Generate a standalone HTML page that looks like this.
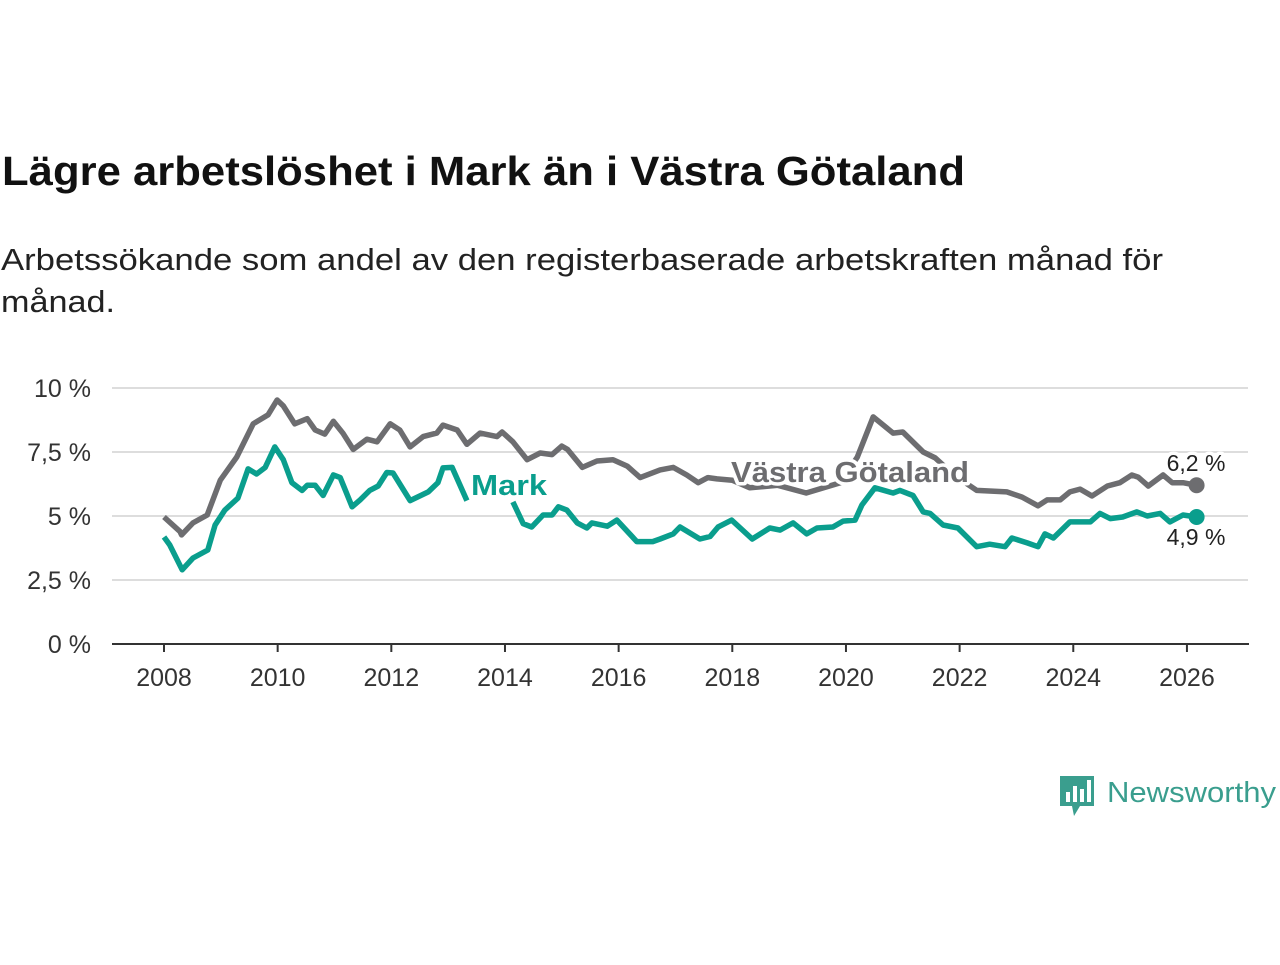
<!DOCTYPE html>
<html><head><meta charset="utf-8"><style>
body{margin:0;background:#fff;width:1280px;height:960px;overflow:hidden;font-family:"Liberation Sans",sans-serif}
</style></head><body>
<svg width="1280" height="960">
<text x="2" y="185" font-size="41" font-weight="bold" fill="#111" textLength="963" lengthAdjust="spacingAndGlyphs">Lägre arbetslöshet i Mark än i Västra Götaland</text>
<text x="1" y="270" font-size="31" fill="#222" textLength="1162" lengthAdjust="spacingAndGlyphs">Arbetssökande som andel av den registerbaserade arbetskraften månad för</text>
<text x="1" y="312" font-size="31" fill="#222" textLength="114" lengthAdjust="spacingAndGlyphs">månad.</text>
<g id="grid"></g><g id="lines"></g><g id="labels"></g>
<g>
<path d="M1060 776h34v30h-14l-6 10-2-10h-12z" fill="#3a9e8e"/>
<rect x="1066" y="792" width="4" height="10" fill="#fff"/><rect x="1073" y="786" width="4" height="16" fill="#fff"/><rect x="1080" y="789" width="4" height="13" fill="#fff"/><rect x="1087" y="780" width="4" height="22" fill="#fff"/>
<text x="1107" y="802" font-size="29" fill="#3a9e8e" textLength="169" lengthAdjust="spacingAndGlyphs">Newsworthy</text>
</g>
</svg>
<script>
const yTicks=[0,2.5,5,7.5,10];
const yTickLabels=["0 %","2,5 %","5 %","7,5 %","10 %"];
const xTicks=[2008,2010,2012,2014,2016,2018,2020,2022,2024,2026];
const vgDates=[2008.0,2008.28,2008.31,2008.51,2008.76,2008.99,2009.28,2009.57,2009.83,2009.99,2010.1,2010.3,2010.52,2010.66,2010.83,2010.98,2011.15,2011.33,2011.57,2011.75,2011.98,2012.15,2012.33,2012.56,2012.8,2012.91,2013.16,2013.33,2013.56,2013.86,2013.95,2014.14,2014.39,2014.62,2014.83,2015.0,2015.1,2015.36,2015.62,2015.9,2016.15,2016.38,2016.73,2016.96,2017.2,2017.4,2017.57,2017.73,2018.0,2018.31,2018.8,2019.3,2019.9,2020.2,2020.48,2020.83,2021.0,2021.36,2021.57,2021.9,2022.3,2022.83,2023.1,2023.38,2023.54,2023.77,2023.94,2024.12,2024.33,2024.6,2024.82,2025.03,2025.14,2025.32,2025.58,2025.74,2025.93,2026.17];
const vgValues=[4.96,4.4,4.26,4.73,5.04,6.4,7.3,8.6,8.95,9.53,9.3,8.6,8.8,8.36,8.2,8.7,8.23,7.6,8.0,7.9,8.6,8.36,7.7,8.1,8.24,8.55,8.36,7.8,8.24,8.1,8.28,7.9,7.2,7.46,7.4,7.73,7.6,6.9,7.15,7.2,6.95,6.5,6.8,6.9,6.6,6.3,6.5,6.45,6.4,6.1,6.2,5.9,6.3,7.3,8.87,8.24,8.28,7.5,7.27,6.6,6.0,5.94,5.74,5.4,5.63,5.63,5.94,6.05,5.78,6.17,6.3,6.6,6.52,6.17,6.6,6.3,6.3,6.2];
const markDates=[2008.0,2008.1,2008.32,2008.51,2008.77,2008.9,2009.07,2009.3,2009.48,2009.63,2009.78,2009.95,2010.1,2010.25,2010.43,2010.52,2010.66,2010.8,2010.98,2011.1,2011.31,2011.45,2011.62,2011.77,2011.92,2012.03,2012.33,2012.65,2012.82,2012.91,2013.07,2013.33,2014.14,2014.32,2014.47,2014.67,2014.83,2014.94,2015.09,2015.27,2015.44,2015.53,2015.8,2015.97,2016.32,2016.6,2016.73,2016.96,2017.08,2017.43,2017.61,2017.75,2017.99,2018.35,2018.66,2018.84,2019.07,2019.31,2019.49,2019.77,2019.95,2020.16,2020.28,2020.51,2020.83,2020.95,2021.18,2021.36,2021.48,2021.71,2021.97,2022.3,2022.53,2022.8,2022.92,2023.19,2023.38,2023.5,2023.65,2023.94,2024.3,2024.47,2024.65,2024.87,2025.12,2025.3,2025.53,2025.7,2025.93,2026.17];
const markValues=[4.18,3.87,2.9,3.36,3.67,4.65,5.23,5.7,6.84,6.64,6.9,7.7,7.2,6.3,6.0,6.2,6.2,5.8,6.6,6.5,5.36,5.63,6.0,6.17,6.7,6.68,5.6,5.94,6.3,6.88,6.9,5.6,5.55,4.7,4.57,5.04,5.04,5.36,5.23,4.73,4.53,4.73,4.6,4.84,4.0,4.0,4.1,4.3,4.57,4.1,4.2,4.57,4.84,4.1,4.53,4.45,4.73,4.3,4.53,4.57,4.8,4.84,5.43,6.1,5.9,6.0,5.8,5.16,5.1,4.65,4.53,3.8,3.9,3.8,4.14,3.95,3.8,4.3,4.14,4.77,4.77,5.1,4.9,4.96,5.16,5.0,5.1,4.77,5.04,4.96];
const X=y=>164+(y-2008)*56.83, Y=v=>644-v*25.6;
const NS="http://www.w3.org/2000/svg";
function mk(t,a,p){const e=document.createElementNS(NS,t);for(const k in a)e.setAttribute(k,a[k]);p.appendChild(e);return e;}
const grid=document.getElementById('grid');
yTicks.forEach((t,i)=>{
 if(t>0){const l=mk('line',{x1:112,x2:1248,y1:Y(t),y2:Y(t),stroke:'#ddd','stroke-width':2},grid);
 
 }
 const tx=mk('text',{x:91,y:Y(t)+9,'text-anchor':'end','font-size':25,fill:'#333'},grid);tx.textContent=yTickLabels[i];
 
 
});
const ax=mk('line',{x1:112,x2:1249,y1:644,y2:644,stroke:'#333','stroke-width':2},grid);


xTicks.forEach(t=>{
 mk('line',{x1:X(t),x2:X(t),y1:644,y2:652,stroke:'#333','stroke-width':2},grid);
 const tx=mk('text',{x:X(t),y:686,'text-anchor':'middle','font-size':25,fill:'#333'},grid);tx.textContent=t;
 
 
});
const lines=document.getElementById('lines');
function line(d,v,c,name){
 const p=mk('path',{d:d.map((x,i)=>((i&&x-d[i-1]<0.75)?'L':'M')+X(x).toFixed(1)+' '+Y(v[i]).toFixed(1)).join(''),fill:'none',stroke:c,'stroke-width':5.5,'stroke-linejoin':'round'},lines);
 
 
 const dot=mk('circle',{cx:X(d[d.length-1]),cy:Y(v[v.length-1]),r:8,fill:c},lines);
 
 
}
line(vgDates,vgValues,'#6d6d70','vastra-gotaland-line');
line(markDates,markValues,'#0a9e8d','mark-line');
const lab=document.getElementById('labels');
function label(x,y,t,c,s,w,name,anchor,len){
 const e=mk('text',{x:x,y:y,'font-size':s,'font-weight':w,fill:c,stroke:'#fff','stroke-width':7,'paint-order':'stroke','stroke-linejoin':'round','text-anchor':anchor||'start'},lab);
 if(len){e.setAttribute('textLength',len);e.setAttribute('lengthAdjust','spacingAndGlyphs');}
 e.textContent=t;
 
 
}
label(471,495,'Mark','#0a9e8d',29,'bold','mark-series-label','start',76);
label(731,482,'Västra Götaland','#6d6d70',29,'bold','vastra-gotaland-series-label','start',238);
label(1196,471,'6,2 %','#222',23,'normal','vg-end-value','middle');
label(1196,545,'4,9 %','#222',23,'normal','mark-end-value','middle');
</script>
</body></html>
